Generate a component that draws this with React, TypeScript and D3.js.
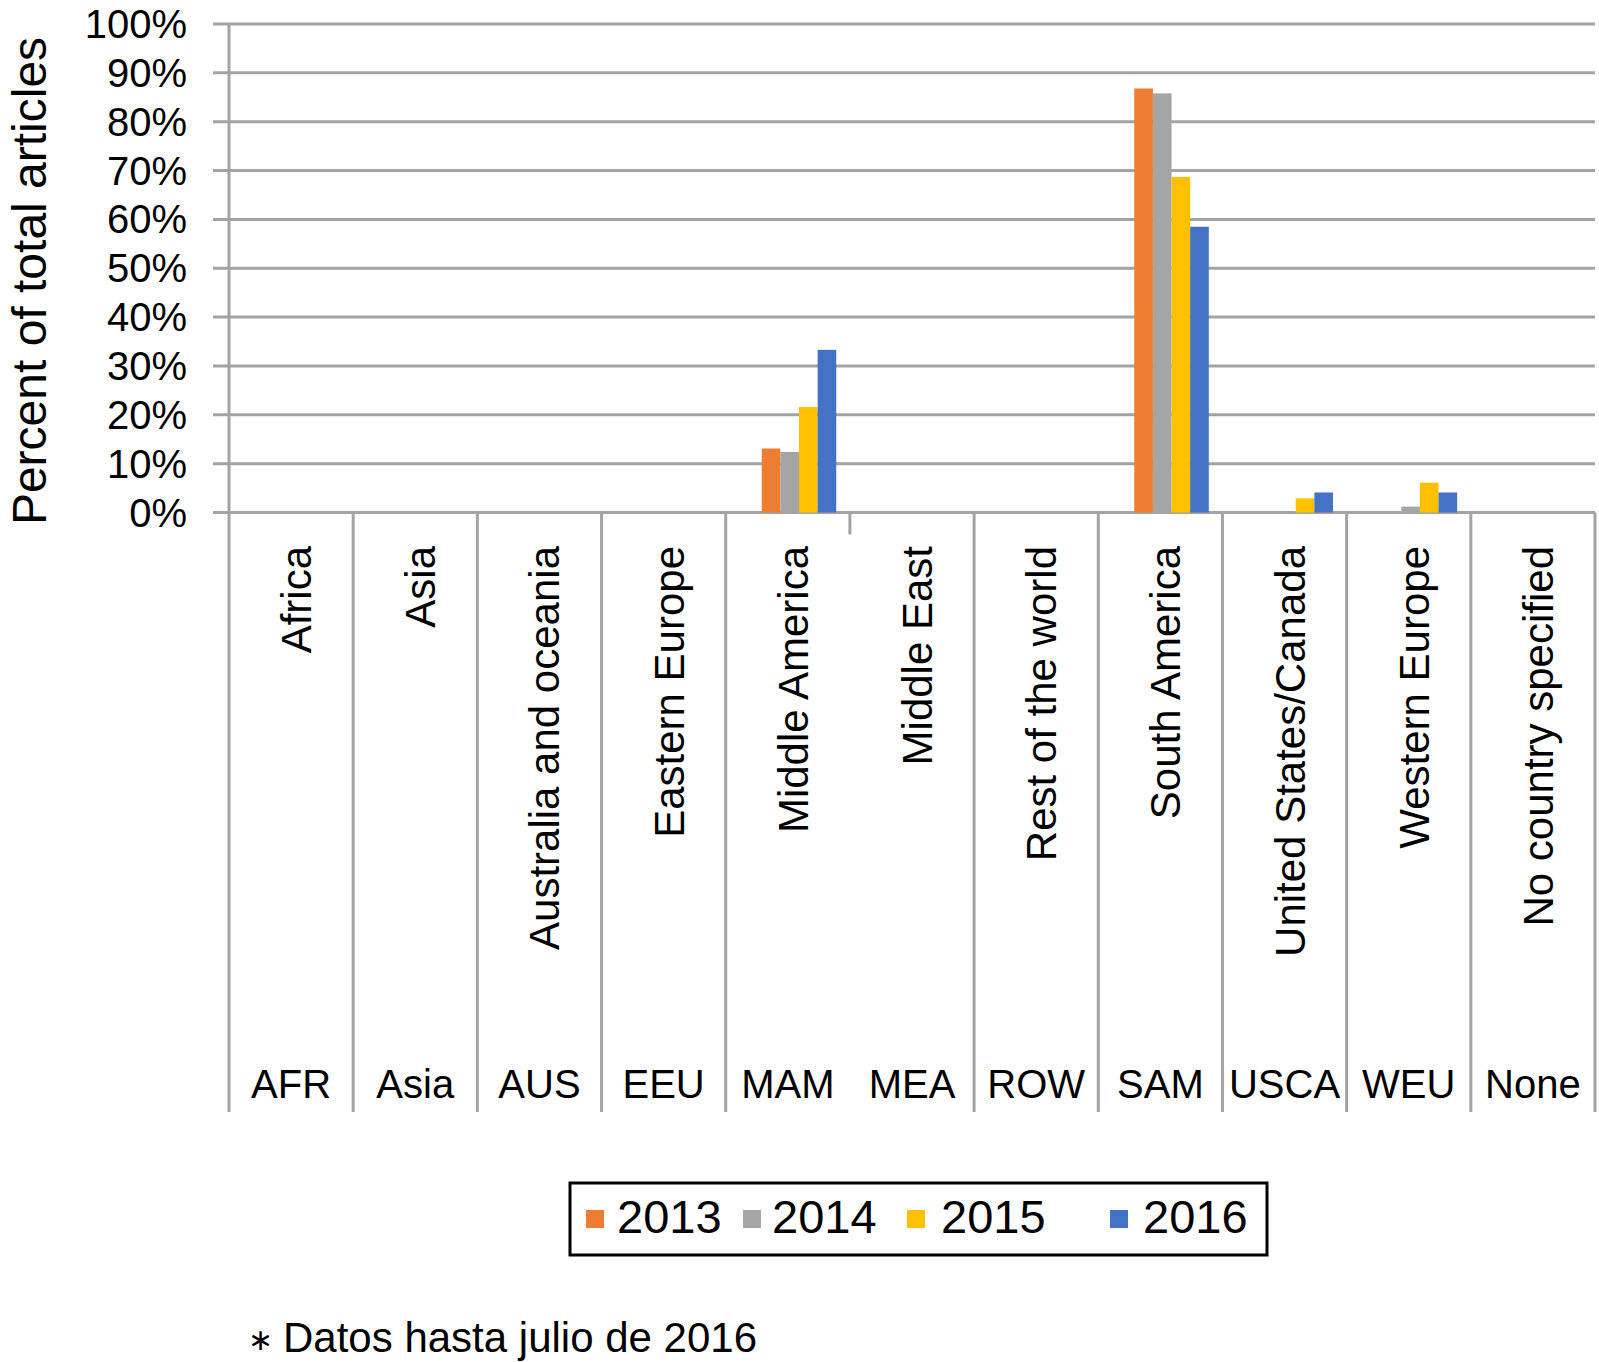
import React from "react";
import * as d3 from "d3";

const categories = [
  "Africa",
  "Asia",
  "Australia and oceania",
  "Eastern Europe",
  "Middle America",
  "Middle East",
  "Rest of the world",
  "South America",
  "United States/Canada",
  "Western Europe",
  "No country specified",
];
const codes = ["AFR", "Asia", "AUS", "EEU", "MAM", "MEA", "ROW", "SAM", "USCA", "WEU", "None"];
const years = ["2013", "2014", "2015", "2016"];
const colors = ["#ED7D31", "#A5A5A5", "#FFC000", "#4472C4"];
const v2013 = [0, 0, 0, 0, 13.1, 0, 0, 86.8, 0, 0, 0];
const v2014 = [0, 0, 0, 0, 12.4, 0, 0, 85.8, 0, 1.2, 0];
const v2015 = [0, 0, 0, 0, 21.6, 0, 0, 68.7, 2.9, 6.1, 0];
const v2016 = [0, 0, 0, 0, 33.3, 0, 0, 58.5, 4.1, 4.1, 0];
const yTicks = [0, 10, 20, 30, 40, 50, 60, 70, 80, 90, 100];
const legendSquareX = [586, 743, 907, 1110];
const legendTextX = [617, 772, 941, 1143];

const series = [v2013, v2014, v2015, v2016];

const W = 1599;
const H = 1362;
const left = 229;
const right = 1595;
const y0 = 512.5;
const y100 = 24;
const bottomLine = 1112;
const font = "'Liberation Sans', Arial, Helvetica, sans-serif";
const gridColor = "#a3a3a3";

export default function App() {
  const x = d3.scaleBand<string>().domain(codes).range([left, right]).paddingInner(0).paddingOuter(0);
  const y = d3.scaleLinear().domain([0, 100]).range([y0, y100]);
  const bw = x.bandwidth();
  const barW = bw * 0.15;
  const clusterOff = bw * 0.29;
  const boundaries = d3.range(codes.length + 1).map((i) => left + i * bw);

  return (
    <svg
      width={W}
      height={H}
      viewBox={`0 0 ${W} ${H}`}
      style={{ position: "absolute", left: 0, top: 0, background: "#fff" }}
      fontFamily={font}
    >
      <rect x={0} y={0} width={W} height={H} fill="#fff" />
      {yTicks.map((t) => (
        <line key={"g" + t} x1={213} x2={right} y1={y(t)} y2={y(t)} stroke={gridColor} strokeWidth={3} />
      ))}
      <line x1={left} x2={left} y1={y100} y2={bottomLine} stroke={gridColor} strokeWidth={3} />
      {boundaries.slice(1).map((bx, i) => (
        <line
          key={"b" + i}
          x1={bx}
          x2={bx}
          y1={y0}
          y2={i === 4 ? y0 + 22 : bottomLine}
          stroke={gridColor}
          strokeWidth={3}
        />
      ))}
      {series.map((vals, si) =>
        vals.map((v, ci) =>
          v > 0 ? (
            <rect
              key={`r${si}-${ci}`}
              x={(x(codes[ci]) as number) + clusterOff + si * barW}
              y={y(v)}
              width={barW}
              height={y(0) - y(v)}
              fill={colors[si]}
            />
          ) : null
        )
      )}
      {yTicks.map((t) => (
        <text
          key={"t" + t}
          x={187}
          y={y(t)}
          textAnchor="end"
          dominantBaseline="central"
          fontSize={40}
          fill="#000"
        >
          {t}%
        </text>
      ))}
      <text transform={`translate(46,281) rotate(-90)`} textAnchor="middle" fontSize={48} fill="#000">
        Percent of total articles
      </text>
      {categories.map((c, i) => {
        const cx = (x(codes[i]) as number) + bw / 2 + 20;
        return (
          <text
            key={"c" + i}
            transform={`translate(${cx},546) rotate(-90)`}
            textAnchor="end"
            fontSize={42}
            fill="#000"
          >
            {c}
          </text>
        );
      })}
      {codes.map((c, i) => (
        <text
          key={"k" + i}
          x={(x(c) as number) + bw / 2}
          y={1098}
          textAnchor="middle"
          fontSize={40}
          fill="#000"
        >
          {c}
        </text>
      ))}
      <rect x={570} y={1183} width={697} height={72} fill="#fff" stroke="#000" strokeWidth={3} />
      {years.map((yr, i) => (
        <g key={"l" + i}>
          <rect x={legendSquareX[i]} y={1210} width={18} height={18} fill={colors[i]} />
          <text x={legendTextX[i]} y={1233} fontSize={47} fill="#000">
            {yr}
          </text>
        </g>
      ))}
      <text x={248} y={1350} fontSize={30} fill="#000">
        ∗
      </text>
      <text x={283} y={1352} fontSize={42} fill="#000">
        Datos hasta julio de 2016
      </text>
    </svg>
  );
}
